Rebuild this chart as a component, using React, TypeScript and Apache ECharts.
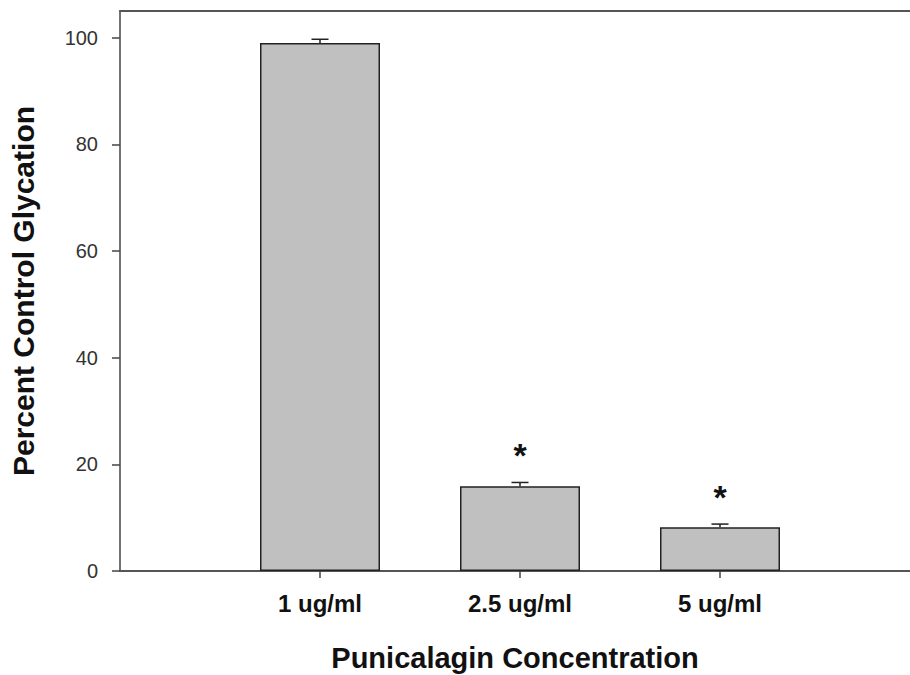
import React, { useEffect, useRef } from "react";
import * as echarts from "echarts";

const categories = ["1 ug/ml", "2.5 ug/ml", "5 ug/ml"];
const categoryPositions = [1, 2, 3];
const barValues = [99, 15.9, 8.2];
const errorValues = [0.7, 0.7, 0.6];
const significant = [false, true, true];
const yTicks = [0, 20, 40, 60, 80, 100];

const FONT = "'Liberation Sans', Arial, Helvetica, sans-serif";

export default function App() {
  const ref = useRef<HTMLDivElement>(null);
  useEffect(() => {
    document.body.style.margin = "0";
    if (!ref.current) return;
    const chart = echarts.init(ref.current, undefined, { renderer: "svg" });
    const barData = categoryPositions.map((p, i) => [p, barValues[i]]);
    const errData = categoryPositions.map((p, i) => [p, barValues[i], errorValues[i], significant[i] ? 1 : 0]);
    const labelFor = (v: number) => {
      const i = categoryPositions.indexOf(Math.round(v));
      return i >= 0 && Math.abs(v - categoryPositions[i]) < 1e-6 ? categories[i] : "";
    };
    chart.setOption({
      animation: false,
      backgroundColor: "#ffffff",
      grid: { left: 120, top: 11, right: 0, bottom: 104, outerBoundsMode: "none", containLabel: false },
      xAxis: [
        {
          type: "value",
          min: 0,
          max: 3.95,
          name: "Punicalagin Concentration",
          nameLocation: "middle",
          nameGap: 72,
          nameTextStyle: { fontFamily: FONT, fontSize: 29, fontWeight: "bold", color: "#111" },
          axisLine: { show: true, onZero: false, lineStyle: { color: "#555", width: 2 } },
          axisTick: { show: true, length: 7, customValues: categoryPositions, lineStyle: { color: "#444", width: 1.5 } },
          axisLabel: { margin: 20, fontFamily: FONT, fontSize: 24, fontWeight: "bold", color: "#111", customValues: categoryPositions, formatter: labelFor },
          splitLine: { show: false },
        },
        {
          type: "value",
          position: "top",
          min: 0,
          max: 3.95,
          axisLine: { show: true, onZero: false, lineStyle: { color: "#555", width: 2 } },
          axisTick: { show: false },
          axisLabel: { show: false },
          splitLine: { show: false },
        },
      ],
      yAxis: {
        type: "value",
        min: 0,
        max: 105,
        name: "Percent Control Glycation",
        nameLocation: "middle",
        nameGap: 82,
        nameTextStyle: { fontFamily: FONT, fontSize: 30, fontWeight: "bold", color: "#111" },
        axisLine: { show: true, onZero: false, lineStyle: { color: "#444", width: 1.5 } },
        axisTick: { show: true, length: 8, customValues: yTicks, lineStyle: { color: "#444", width: 1.5 } },
        axisLabel: { margin: 22, fontFamily: FONT, fontSize: 20, color: "#333", customValues: yTicks },
        splitLine: { show: false },
      },
      series: [
        {
          type: "bar",
          data: barData,
          barWidth: 120,
          itemStyle: { color: "#c0c0c0", borderColor: "#222", borderWidth: 1.5 },
          z: 2,
        },
        {
          type: "custom",
          data: errData,
          z: 3,
          renderItem: (params: any, api: any) => {
            const x = api.value(0);
            const v = api.value(1);
            const e = api.value(2);
            const star = api.value(3);
            const base = api.coord([x, v]);
            const top = api.coord([x, v + e]);
            const children: any[] = [
              { type: "line", shape: { x1: top[0], y1: base[1], x2: top[0], y2: top[1] }, style: { stroke: "#222", lineWidth: 1.5 } },
              { type: "line", shape: { x1: top[0] - 8.5, y1: top[1], x2: top[0] + 8.5, y2: top[1] }, style: { stroke: "#222", lineWidth: 1.5 } },
            ];
            if (star) {
              children.push({
                type: "text",
                style: { text: "*", x: top[0], y: top[1] - 27, align: "center", verticalAlign: "middle", fontFamily: FONT, fontSize: 34, fontWeight: "bold", fill: "#111" },
              });
            }
            return { type: "group", children };
          },
        },
      ],
    });
    return () => chart.dispose();
  }, []);
  return <div ref={ref} style={{ width: 910, height: 675, overflow: "hidden" }} />;
}
